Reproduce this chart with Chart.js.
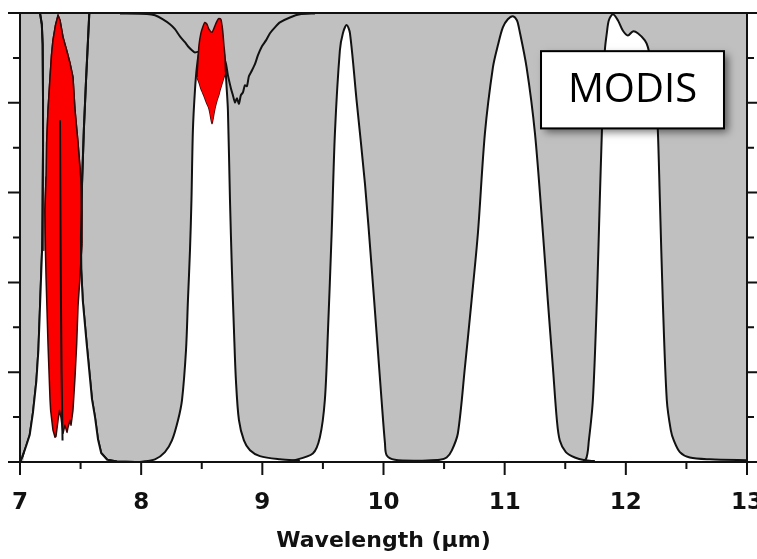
<!DOCTYPE html>
<html>
<head>
<meta charset="utf-8">
<script src="https://cdn.jsdelivr.net/npm/chart.js@4.4.1/dist/chart.umd.min.js"></script>
<style>
  html, body { margin: 0; padding: 0; background: #ffffff; }
  canvas { display: block; }
</style>
</head>
<body>
<canvas id="srf" width="757" height="559"></canvas>
<script>
// Axis ticks
const wavelengthTicks = [7, 8, 9, 10, 11, 12, 13];
const wavelengthMinorTicks = [7.5, 8.5, 9.5, 10.5, 11.5, 12.5];
const responseTicks = [0, 0.1, 0.2, 0.3, 0.4, 0.5, 0.6, 0.7, 0.8, 0.9, 1.0];

// Spectral response of the thermal bands: [wavelength (µm), relative response]
const band28Lower = [[7.030,0.000],[7.050,0.035],[7.080,0.060],[7.107,0.110],[7.135,0.180],[7.152,0.250],[7.163,0.330],[7.175,0.420],[7.182,0.470],[7.500,0.470],[7.505,0.430],[7.518,0.360],[7.550,0.264],[7.594,0.140],[7.619,0.100],[7.644,0.050],[7.670,0.020],[7.720,0.005],[7.800,0.000]];
const band28Edge = [[7.000,0.000],[7.020,0.012],[7.050,0.035],[7.080,0.060],[7.107,0.110],[7.135,0.180],[7.152,0.250],[7.163,0.330],[7.175,0.420],[7.182,0.470],[7.187,0.583],[7.190,0.700],[7.190,0.806],[7.187,0.930],[7.180,0.975],[7.165,1.000],[7.572,1.000],[7.563,0.950],[7.545,0.850],[7.527,0.740],[7.512,0.620],[7.503,0.500],[7.505,0.430],[7.518,0.360],[7.550,0.264],[7.594,0.140],[7.619,0.100],[7.644,0.050],[7.670,0.020],[7.720,0.005],[7.800,0.001],[7.950,0.000]];
const band29 = [[7.990,0.000],[8.114,0.006],[8.196,0.022],[8.254,0.048],[8.304,0.093],[8.337,0.138],[8.370,0.249],[8.386,0.360],[8.403,0.472],[8.415,0.583],[8.427,0.739],[8.444,0.828],[8.460,0.880],[8.480,0.915],[8.510,0.930],[8.650,0.930],[8.680,0.915],[8.695,0.880],[8.704,0.840],[8.716,0.783],[8.733,0.583],[8.749,0.427],[8.766,0.293],[8.782,0.182],[8.807,0.093],[8.848,0.048],[8.898,0.026],[8.980,0.013],[9.145,0.006],[9.310,0.003]];
const band30 = [[9.228,0.001],[9.417,0.019],[9.475,0.055],[9.516,0.138],[9.541,0.287],[9.572,0.509],[9.599,0.732],[9.640,0.917],[9.665,0.955],[9.696,0.973],[9.723,0.955],[9.778,0.805],[9.847,0.620],[9.902,0.434],[9.943,0.287],[9.984,0.138],[10.012,0.042],[10.026,0.015],[10.094,0.005],[10.300,0.003],[10.465,0.004]];
const band31 = [[10.300,0.002],[10.465,0.005],[10.521,0.010],[10.564,0.026],[10.614,0.064],[10.672,0.211],[10.727,0.360],[10.779,0.509],[10.837,0.732],[10.903,0.879],[10.944,0.928],[10.985,0.968],[11.026,0.986],[11.068,0.993],[11.101,0.984],[11.117,0.968],[11.181,0.879],[11.250,0.732],[11.316,0.509],[11.356,0.360],[11.398,0.211],[11.431,0.093],[11.455,0.048],[11.505,0.022],[11.579,0.010],[11.662,0.004],[11.744,0.002]];
const band32 = [[11.604,0.000],[11.670,0.006],[11.695,0.048],[11.728,0.138],[11.761,0.360],[11.785,0.583],[11.802,0.732],[11.827,0.917],[11.843,0.955],[11.860,0.984],[11.893,0.997],[11.934,0.984],[11.975,0.961],[12.017,0.950],[12.058,0.959],[12.099,0.955],[12.157,0.939],[12.182,0.924],[12.215,0.883],[12.248,0.805],[12.264,0.739],[12.281,0.583],[12.305,0.360],[12.338,0.138],[12.371,0.071],[12.396,0.048],[12.446,0.022],[12.528,0.010],[12.693,0.006],[12.998,0.004],[13.050,0.004]];

// Transmission through the SO2 feature near 8.6 µm
const so2Transmission = [[7.825,0.999],[8.048,0.998],[8.114,0.995],[8.180,0.986],[8.238,0.975],[8.279,0.964],[8.320,0.948],[8.361,0.935],[8.386,0.926],[8.419,0.917],[8.444,0.912],[8.526,0.917],[8.609,0.912],[8.691,0.895],[8.716,0.861],[8.741,0.832],[8.757,0.817],[8.774,0.801],[8.790,0.810],[8.807,0.798],[8.823,0.817],[8.840,0.823],[8.856,0.839],[8.873,0.837],[8.889,0.859],[8.914,0.872],[8.939,0.886],[8.964,0.906],[8.997,0.926],[9.030,0.939],[9.063,0.955],[9.104,0.968],[9.145,0.979],[9.228,0.990],[9.310,0.997],[9.434,0.999]];

// Absorption envelopes (upper and lower bounds) drawn in red
const absorb73Top = [[7.206,0.561],[7.215,0.634],[7.220,0.710],[7.231,0.783],[7.248,0.857],[7.260,0.906],[7.272,0.939],[7.293,0.973],[7.314,0.995],[7.330,0.984],[7.355,0.946],[7.385,0.917],[7.413,0.888],[7.437,0.857],[7.454,0.783],[7.479,0.710],[7.501,0.634],[7.509,0.561],[7.511,0.487]];
const absorb73Bottom = [[7.206,0.561],[7.210,0.472],[7.215,0.411],[7.231,0.264],[7.248,0.138],[7.253,0.115],[7.272,0.071],[7.289,0.055],[7.297,0.057],[7.314,0.093],[7.326,0.115],[7.338,0.100],[7.355,0.064],[7.371,0.082],[7.388,0.066],[7.396,0.077],[7.413,0.093],[7.421,0.082],[7.437,0.115],[7.454,0.189],[7.468,0.264],[7.479,0.348],[7.495,0.411],[7.511,0.487]];
const absorb73Split = [[7.330,0.761],[7.334,0.550],[7.338,0.360],[7.343,0.200],[7.351,0.048]];
const absorb86Top = [[8.460,0.857],[8.469,0.895],[8.477,0.928],[8.493,0.955],[8.510,0.970],[8.526,0.979],[8.543,0.975],[8.559,0.964],[8.584,0.957],[8.601,0.966],[8.617,0.977],[8.634,0.986],[8.642,0.988],[8.658,0.986],[8.667,0.973],[8.675,0.955],[8.683,0.928],[8.691,0.906],[8.696,0.868]];
const absorb86Bottom = [[8.460,0.857],[8.477,0.846],[8.493,0.832],[8.510,0.821],[8.526,0.810],[8.543,0.798],[8.559,0.788],[8.568,0.777],[8.576,0.765],[8.584,0.754],[8.592,0.763],[8.601,0.777],[8.609,0.788],[8.625,0.805],[8.642,0.819],[8.650,0.828],[8.667,0.843],[8.683,0.857],[8.696,0.868]];

// Label box, in data units
const sensorLabel = 'MODIS';
const sensorBox = { x0: 11.30, x1: 12.81, y0: 0.743, y1: 0.915 };

const xy = arr => arr.map(p => ({ x: p[0], y: p[1] }));

const GRAY = '#c0c0c0';
const RED = 'rgb(252,0,0)';
const DARK_RED = '#3a0505';
const INK = '#111111';

function whiteBand(data, order) {
  return { data: xy(data), showLine: true, pointRadius: 0, borderColor: INK, borderWidth: 2,
           backgroundColor: '#ffffff', fill: 'origin', tension: 0.3, order };
}
function plainLine(data, order, width, tension) {
  return { data: xy(data), showLine: true, pointRadius: 0, borderColor: INK, borderWidth: width,
           fill: false, tension, order };
}

const datasets = [
  { data: xy(band28Lower), showLine: true, pointRadius: 0, borderColor: '#ffffff', borderWidth: 1,
    backgroundColor: '#ffffff', fill: 'origin', tension: 0, order: 12 },
  whiteBand(band29, 8),
  whiteBand(band30, 9),
  whiteBand(band31, 10),
  whiteBand(band32, 11),
  plainLine(band28Edge, 7, 2, 0),
  plainLine(so2Transmission, 6, 2, 0.2),
  { data: xy(absorb73Top), showLine: true, pointRadius: 0, borderColor: DARK_RED, borderWidth: 1.5,
    backgroundColor: RED, fill: '+1', tension: 0, order: 2 },
  { data: xy(absorb73Bottom), showLine: true, pointRadius: 0, borderColor: DARK_RED, borderWidth: 1.5,
    fill: false, tension: 0, order: 3 },
  { data: xy(absorb86Top), showLine: true, pointRadius: 0, borderColor: DARK_RED, borderWidth: 1.5,
    backgroundColor: RED, fill: '+1', tension: 0.2, order: 4 },
  { data: xy(absorb86Bottom), showLine: true, pointRadius: 0, borderColor: DARK_RED, borderWidth: 1.5,
    fill: false, tension: 0.2, order: 5 },
  plainLine(absorb73Split, 1, 2, 0)
];

const plotBackground = {
  id: 'plotBackground',
  beforeDraw(chart) {
    const { ctx, chartArea: a } = chart;
    ctx.save();
    ctx.fillStyle = '#ffffff';
    ctx.fillRect(0, 0, chart.width, chart.height);
    ctx.fillStyle = GRAY;
    ctx.fillRect(a.left, a.top, a.right - a.left, a.bottom - a.top);
    ctx.restore();
  }
};

// Re-traces the 7.3 µm band on top of the datasets: open (white) lower part,
// red envelope, its split line and the band outline, all through the scales.
const band28Overlay = {
  id: 'band28Overlay',
  afterDatasetsDraw(chart) {
    const { ctx, chartArea: a, scales } = chart;
    const x = scales.x, y = scales.y;
    const px = v => x.getPixelForValue(v), py = v => y.getPixelForValue(v);
    const trace = (pts, move) => pts.forEach((p, i) => (i === 0 && move ? ctx.moveTo(px(p[0]), py(p[1])) : ctx.lineTo(px(p[0]), py(p[1]))));
    ctx.save();
    ctx.beginPath();
    ctx.rect(a.left, a.top, a.right - a.left, a.bottom - a.top);
    ctx.clip();

    ctx.fillStyle = '#ffffff';
    ctx.beginPath();
    ctx.moveTo(px(band28Lower[0][0]), py(0));
    trace(band28Lower, false);
    ctx.lineTo(px(band28Lower[band28Lower.length - 1][0]), py(0));
    ctx.closePath();
    ctx.fill();

    ctx.beginPath();
    trace(absorb73Top, true);
    trace(absorb73Bottom.slice().reverse(), false);
    ctx.closePath();
    ctx.fillStyle = RED;
    ctx.fill();
    ctx.lineWidth = 1.5;
    ctx.strokeStyle = DARK_RED;
    ctx.lineJoin = 'round';
    ctx.stroke();

    ctx.strokeStyle = INK;
    ctx.lineWidth = 2;
    ctx.beginPath();
    trace(absorb73Split, true);
    ctx.stroke();
    ctx.beginPath();
    trace(band28Edge, true);
    ctx.stroke();
    ctx.restore();
  }
};

const frameAndTicks = {
  id: 'frameAndTicks',
  afterDraw(chart) {
    const { ctx, chartArea: a, scales } = chart;
    const x = scales.x, y = scales.y;
    ctx.save();
    ctx.strokeStyle = INK;
    ctx.lineWidth = 2;
    ctx.strokeRect(a.left, a.top, a.right - a.left, a.bottom - a.top);
    ctx.beginPath();
    wavelengthTicks.forEach(v => {
      const p = x.getPixelForValue(v);
      ctx.moveTo(p, a.bottom); ctx.lineTo(p, a.bottom + 13);
    });
    wavelengthMinorTicks.forEach(v => {
      const p = x.getPixelForValue(v);
      ctx.moveTo(p, a.bottom); ctx.lineTo(p, a.bottom + 7);
    });
    responseTicks.forEach((v, i) => {
      const p = y.getPixelForValue(v);
      const len = i % 2 === 0 ? 12 : 7;
      ctx.moveTo(a.left, p); ctx.lineTo(a.left - len, p);
      ctx.moveTo(a.right, p); ctx.lineTo(a.right + len, p);
    });
    ctx.stroke();

    // sensor label box with a soft drop shadow
    const bx0 = x.getPixelForValue(sensorBox.x0), bx1 = x.getPixelForValue(sensorBox.x1);
    const by0 = y.getPixelForValue(sensorBox.y1), by1 = y.getPixelForValue(sensorBox.y0);
    ctx.save();
    ctx.shadowColor = 'rgba(0,0,0,0.55)';
    ctx.shadowBlur = 8;
    ctx.shadowOffsetX = 4;
    ctx.shadowOffsetY = 4;
    ctx.fillStyle = '#ffffff';
    ctx.fillRect(bx0, by0, bx1 - bx0, by1 - by0);
    ctx.restore();
    ctx.lineWidth = 2;
    ctx.strokeStyle = '#000000';
    ctx.strokeRect(bx0, by0, bx1 - bx0, by1 - by0);
    ctx.fillStyle = '#000000';
    ctx.font = '40px "Open Sans"';
    ctx.textAlign = 'center';
    ctx.textBaseline = 'middle';
    ctx.fillText(sensorLabel, (bx0 + bx1) / 2, (by0 + by1) / 2 + 1);
    ctx.restore();
  }
};

const hiddenAxis = (position, width) => ({
  type: 'linear', min: 0, max: 1, position,
  ticks: { display: false },
  grid: { display: false, drawTicks: false },
  border: { display: false },
  afterFit(s) { s.width = width; }
});

new Chart(document.getElementById('srf'), {
  type: 'scatter',
  data: { datasets },
  options: {
    responsive: false,
    animation: false,
    events: [],
    layout: { padding: { top: 13, left: 0, right: 0, bottom: 0 } },
    plugins: { legend: { display: false }, tooltip: { enabled: false } },
    scales: {
      x: {
        type: 'linear', min: 7, max: 13, position: 'bottom',
        afterBuildTicks(s) { s.ticks = wavelengthTicks.map(v => ({ value: v })); },
        ticks: { autoSkip: false, maxRotation: 0, padding: 27, color: INK,
                 font: { family: 'DejaVu Sans', weight: 'bold', size: 23 } },
        grid: { display: false, drawTicks: false },
        border: { display: false },
        title: { display: true, text: 'Wavelength (µm)', color: INK,
                 font: { family: 'DejaVu Sans', weight: 'bold', size: 22 },
                 padding: { top: 0, bottom: 5 } },
        afterFit(s) { s.height = 97; s.paddingLeft = 0; s.paddingRight = 0; }
      },
      y: hiddenAxis('left', 20),
      y2: hiddenAxis('right', 10)
    }
  },
  plugins: [plotBackground, band28Overlay, frameAndTicks]
});
</script>
</body>
</html>
